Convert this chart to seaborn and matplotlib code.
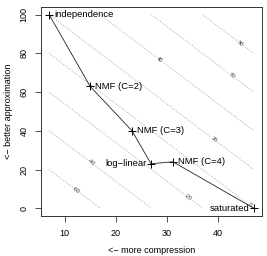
import numpy as np
import matplotlib
matplotlib.use("Agg")
import matplotlib.pyplot as plt
import seaborn as sns

# models: compression vs approximation
methods = ["independence", "NMF (C=2)", "NMF (C=3)", "log\u2212linear", "NMF (C=4)", "saturated"]
compression = [7, 15, 23.2, 26.9, 31.2, 47]
approximation = [100, 63, 40, 23, 24, 0]
label_side = ["right", "right", "right", "left", "right", "left"]

# contour levels of 2*(x - 47) + y
levels = [-80, -60, -40, -20, 0, 20, 40, 60, 80, 100]
clabel_spots = [(12.3, 9.7), (15.2, 23.6), (34.3, 6.2), (46.1, 1.5),
                (39.1, 35.4), (28.4, 76.4), (42.4, 67.7), (44, 84)]

sns.set_style("ticks")
plt.rcParams["font.family"] = ["Liberation Sans", "DejaVu Sans"]
plt.rcParams["font.size"] = 6.5
plt.rcParams["text.color"] = "black"
plt.rcParams["axes.labelcolor"] = "black"
plt.rcParams["xtick.color"] = "black"
plt.rcParams["ytick.color"] = "black"

fig = plt.figure(figsize=(2.67, 2.56), dpi=100)
ax = fig.add_axes([41 / 267, 1 - 216 / 256, 221 / 267, 209 / 256])

gx = np.linspace(min(compression), max(compression), 81)
gy = np.linspace(min(approximation), max(approximation), 101)
GX, GY = np.meshgrid(gx, gy)
Z = 2 * (GX - max(compression)) + GY
cs = ax.contour(GX, GY, Z, levels=levels, colors="#999999",
                linestyles=":", linewidths=0.6)
ax.clabel(cs, fontsize=4, inline=True, inline_spacing=1, fmt="%d",
          manual=clabel_spots, colors="#333333")

sns.lineplot(x=compression, y=approximation, sort=False, ax=ax,
             color="#222222", lw=0.6, marker="+", markersize=5.5,
             mew=0.7, mec="black", estimator=None)

for name, cx, cy, side in zip(methods, compression, approximation, label_side):
    if side == "right":
        ax.annotate(name, (cx, cy), xytext=(3.5, 0), textcoords="offset points",
                    ha="left", va="center", fontsize=6.8)
    else:
        ax.annotate(name, (cx, cy), xytext=(-3.5, 0), textcoords="offset points",
                    ha="right", va="center", fontsize=6.8)

ax.set_xlim(5.4, 48.6)
ax.set_ylim(-4, 104)
ax.set_xticks([10, 20, 30, 40])
ax.set_yticks([0, 20, 40, 60, 80, 100])
ax.tick_params(length=4, width=0.6, pad=5, labelsize=6.5, color="#333333")
for lab in ax.get_yticklabels():
    lab.set_rotation(90)
    lab.set_va("center")
for s in ax.spines.values():
    s.set_linewidth(0.7)
    s.set_color("#333333")
    s.set_visible(True)

ax.set_xlabel("<\u2212 more compression", labelpad=6)
ax.set_ylabel("<\u2212 better approximation", labelpad=5)

fig.savefig("out.png", dpi=100)
